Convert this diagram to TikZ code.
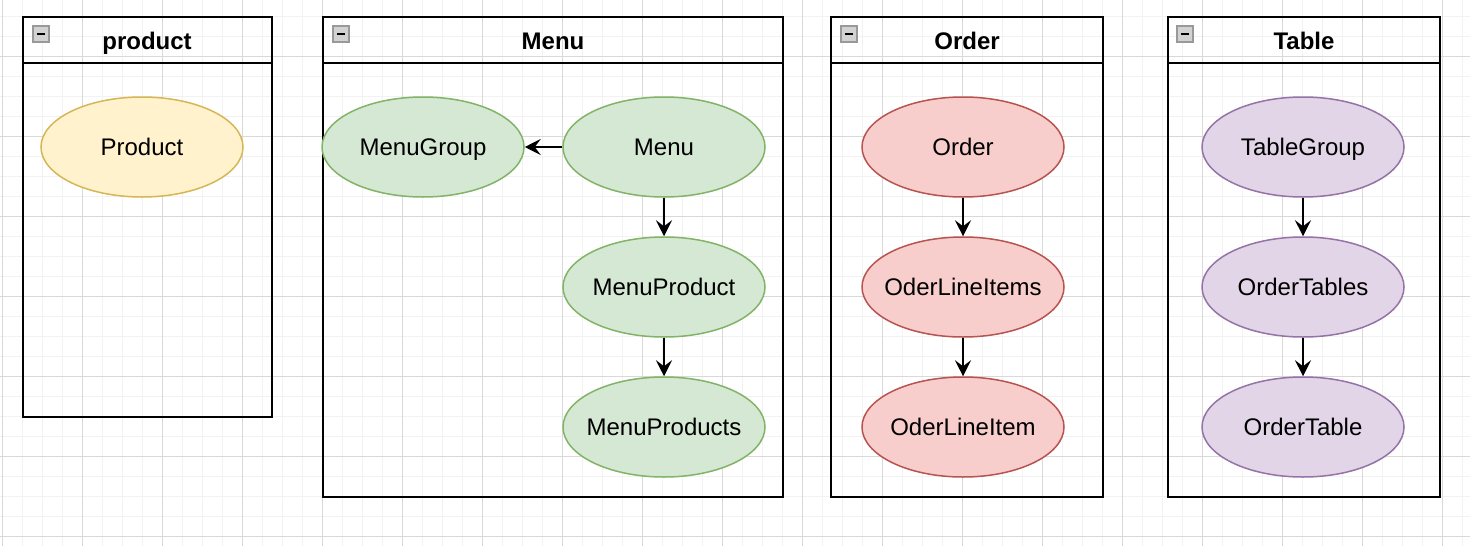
\documentclass[tikz,border=0pt]{standalone}
\usepackage{fontspec}
\setmainfont{Liberation Sans}
\usetikzlibrary{arrows.meta,shapes.geometric}

\definecolor{prodfill}{HTML}{FFF2CC}
\definecolor{proddraw}{HTML}{D6B656}
\definecolor{menufill}{HTML}{D5E8D4}
\definecolor{menudraw}{HTML}{82B366}
\definecolor{orderfill}{HTML}{F8CECC}
\definecolor{orderdraw}{HTML}{B85450}
\definecolor{tablefill}{HTML}{E1D5E7}
\definecolor{tabledraw}{HTML}{9673A6}
\definecolor{gridminor}{HTML}{F2F2F2}
\definecolor{gridmajor}{HTML}{D9D9D9}

\tikzset{
	entity/.style={ellipse, draw, line width=0.75pt, minimum width=101pt, minimum height=50pt,
		inner sep=0pt, inner xsep=-12pt, text height=8.6pt, text depth=0pt,
		font=\fontsize{12}{14}\selectfont},
	box/.style={draw=black, line width=1pt},
	title/.style={font=\fontsize{12}{14}\selectfont\bfseries, text height=8.6pt, text depth=0pt, inner sep=0pt},
	link/.style={line width=1pt, -{Stealth[length=8pt, width=8pt, inset=3pt]}},
	icon/.style={draw=gray!80, fill=gray!35, line width=0.6pt}
}

\begin{document}
\begin{tikzpicture}[x=0.5pt, y=-0.5pt]
			\useasboundingbox (0,0) rectangle (1470,546);
			\fill[white] (0,0) rectangle (1470,546);
			
			%grid
			\begin{scope}
				\clip (0,0) rectangle (1470,546);
				\foreach \x in {2,22,...,1462}{
					\draw[gridminor, line width=0.5pt] (\x,0) -- (\x,546);
				}
				\foreach \y in {16,36,...,536}{
					\draw[gridminor, line width=0.5pt] (0,\y) -- (1470,\y);
				}
				\foreach \x in {2,82,...,1442}{
					\draw[gridmajor, line width=0.5pt] (\x,0) -- (\x,546);
				}
				\foreach \y in {56,136,...,536}{
					\draw[gridmajor, line width=0.5pt] (0,\y) -- (1470,\y);
				}
			\end{scope}
			
			%containers
			\draw[box] (23,17) rectangle (272,417);
			\draw[box] (23,63) -- (272,63);
			\node[title] (producttitle) at (147,41){product};
			
			\draw[box] (323,17) rectangle (783,497);
			\draw[box] (323,63) -- (783,63);
			\node[title] (menutitle) at (553,41){Menu};
			
			\draw[box] (831,17) rectangle (1103,497);
			\draw[box] (831,63) -- (1103,63);
			\node[title] (ordertitle) at (967,41){Order};
			
			\draw[box] (1168,17) rectangle (1440,497);
			\draw[box] (1168,63) -- (1440,63);
			\node[title] (tabletitle) at (1304,41){Table};
			
			%collapse icons
			\foreach \x in {33, 333, 841, 1177}{
				\draw[icon] (\x,26) rectangle (\x+16,42);
				\draw[line width=1.1pt] (\x+4,34) -- (\x+12,34);
			}
			
			%product
			\node[entity, fill=prodfill, draw=proddraw] (product) at (142,147){Product};
			
			%menu
			\node[entity, fill=menufill, draw=menudraw] (menugroup) at (423,147){MenuGroup};
			\node[entity, fill=menufill, draw=menudraw] (menu) at (664,147){Menu};
			\node[entity, fill=menufill, draw=menudraw] (menuproduct) at (664,287){MenuProduct};
			\node[entity, fill=menufill, draw=menudraw] (menuproducts) at (664,427){MenuProducts};
			
			%order
			\node[entity, fill=orderfill, draw=orderdraw] (order) at (963,147){Order};
			\node[entity, fill=orderfill, draw=orderdraw] (lineitems) at (963,287){OderLineItems};
			\node[entity, fill=orderfill, draw=orderdraw] (lineitem) at (963,427){OderLineItem};
			
			%table
			\node[entity, fill=tablefill, draw=tabledraw] (tablegroup) at (1303,147){TableGroup};
			\node[entity, fill=tablefill, draw=tabledraw] (ordertables) at (1303,287){OrderTables};
			\node[entity, fill=tablefill, draw=tabledraw] (ordertable) at (1303,427){OrderTable};
			
			\draw[link] (menu) -- (menugroup);
			\draw[link] (menu) -- (menuproduct);
			\draw[link] (menuproduct) -- (menuproducts);
			\draw[link] (order) -- (lineitems);
			\draw[link] (lineitems) -- (lineitem);
			\draw[link] (tablegroup) -- (ordertables);
			\draw[link] (ordertables) -- (ordertable);
		\end{tikzpicture}
\end{document}
